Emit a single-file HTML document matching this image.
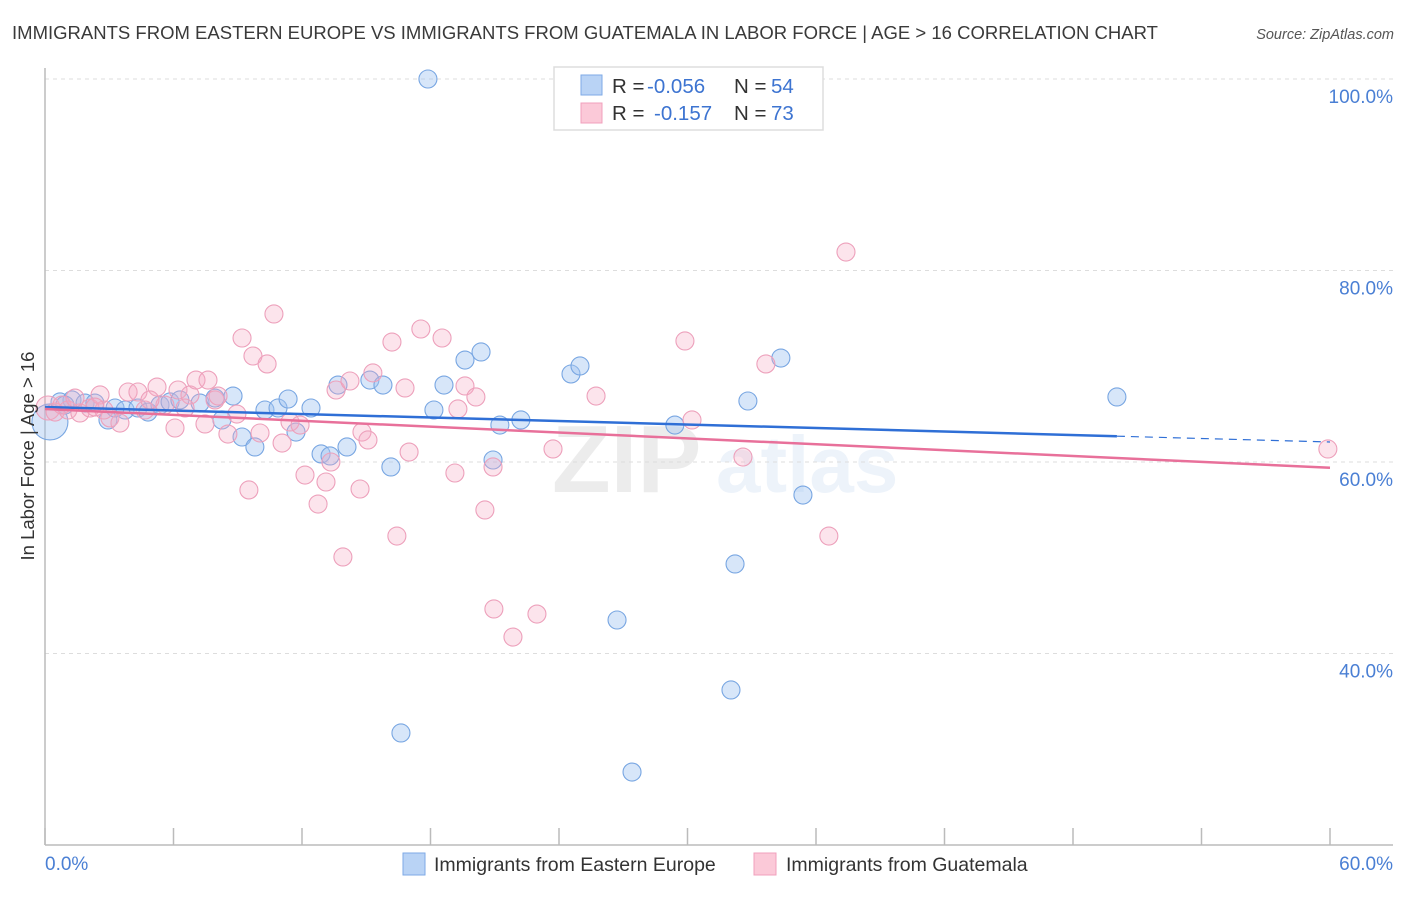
<!DOCTYPE html>
<html><head><meta charset="utf-8"><style>
body{margin:0;background:#fff;font-family:"Liberation Sans",sans-serif;}
svg text{font-family:"Liberation Sans",sans-serif;}
</style></head><body>
<svg id="chart" width="1406" height="892" xmlns="http://www.w3.org/2000/svg">
<text x="12" y="39" font-size="18.5" fill="#3a3a3a" textLength="1146" lengthAdjust="spacingAndGlyphs">IMMIGRANTS FROM EASTERN EUROPE VS IMMIGRANTS FROM GUATEMALA IN LABOR FORCE | AGE &gt; 16 CORRELATION CHART</text>
<text x="1394" y="39" font-size="14.5" fill="#555" font-style="italic" text-anchor="end">Source: ZipAtlas.com</text>
<g opacity="0.13">
<text x="552" y="492" font-size="96" font-family="Liberation Serif, serif" font-weight="bold" fill="#777">ZIP</text>
<text x="716" y="492" font-size="80" fill="#7aa6e0" font-weight="bold">atlas</text>
</g>
<g id="grid"></g>
<g id="axes"></g>
<g id="points"></g>
<g id="lines"></g>
<text transform="translate(34,456) rotate(-90)" font-size="18.5" fill="#333" text-anchor="middle">In Labor Force | Age &gt; 16</text>
<g>
<rect x="554" y="67" width="269" height="63" fill="#fff" stroke="#ddd" stroke-width="1.5"/>
<rect x="581" y="75" width="21" height="20" fill="#b9d3f5" stroke="#7ea9e6"/>
<rect x="581" y="103" width="21" height="20" fill="#fbc9d8" stroke="#f0a0bc"/>
<text x="612" y="93" font-size="20.5" fill="#333">R =</text><text x="647" y="93" font-size="20.5" fill="#3d74d1">-0.056</text>
<text x="734" y="93" font-size="20.5" fill="#333">N =</text><text x="771" y="93" font-size="20.5" fill="#3d74d1">54</text>
<text x="612" y="120" font-size="20.5" fill="#333">R =</text><text x="654" y="120" font-size="20.5" fill="#3d74d1">-0.157</text>
<text x="734" y="120" font-size="20.5" fill="#333">N =</text><text x="771" y="120" font-size="20.5" fill="#3d74d1">73</text>
</g>
<g>
<rect x="403" y="853" width="22" height="22" fill="#b9d3f5" stroke="#7ea9e6"/>
<text x="434" y="871" font-size="19.5" fill="#333">Immigrants from Eastern Europe</text>
<rect x="754" y="853" width="22" height="22" fill="#fbc9d8" stroke="#f0a0bc"/>
<text x="786" y="871" font-size="19.5" fill="#333">Immigrants from Guatemala</text>
</g>
</svg>
<script>
const yTicks=[40,60,80,100];
const yTickLabels=["40.0%","60.0%","80.0%","100.0%"];
const xTickLabels=["0.0%","60.0%"];
const blueX=[17.88,26.29,34.83,0.23,0.70,1.26,1.87,2.33,2.94,3.27,3.74,4.34,4.81,5.37,5.84,6.30,7.24,7.94,8.26,8.78,9.20,9.80,10.27,10.88,11.35,11.72,12.42,12.89,13.31,13.68,14.10,15.17,15.78,16.15,18.16,18.63,19.61,20.36,20.92,21.24,22.22,24.56,24.98,26.71,29.41,32.03,32.22,32.82,34.36,35.39,50.05,16.62,27.41,0.93];
const blueY=[100.0,100.3,95.72,64.18,66.27,66.48,66.16,66.16,64.39,65.64,65.43,65.64,65.22,65.95,66.27,66.48,66.16,66.68,64.39,66.89,62.61,61.57,65.43,65.64,66.58,63.13,65.64,60.84,60.63,68.04,61.57,68.56,68.04,59.48,65.43,68.04,70.65,71.49,60.21,63.86,64.39,69.19,70.03,43.50,63.86,36.19,49.35,66.37,70.86,56.55,66.79,31.70,27.62,65.95];
const pinkX=[0.14,0.47,0.79,1.07,1.63,2.10,2.57,3.03,3.50,3.88,4.34,4.67,5.23,5.60,6.07,6.21,6.77,7.05,7.47,7.61,7.94,8.54,8.96,9.20,9.52,9.71,10.04,10.37,10.69,11.07,11.44,12.14,12.75,13.12,13.35,13.59,13.91,14.24,14.71,14.80,15.08,15.31,16.20,16.43,16.81,17.00,17.55,18.54,19.14,19.28,19.61,20.12,20.54,20.92,20.96,21.85,22.97,23.72,25.73,29.88,30.21,32.59,33.66,36.60,37.40,59.90,1.40,2.75,4.90,6.54,8.08,11.91,2.33];
const pinkY=[65.64,65.22,65.95,65.43,65.12,65.64,67.00,64.60,64.07,67.31,67.31,65.43,67.83,65.95,63.55,67.52,67.00,68.56,63.97,68.56,66.48,62.92,65.01,72.95,57.08,71.07,63.03,70.24,75.46,61.98,64.18,58.64,55.61,57.91,60.00,67.52,50.08,68.46,57.18,63.13,62.30,69.30,72.53,52.27,67.73,61.04,73.89,72.95,58.85,65.54,67.94,66.79,54.99,59.48,44.65,41.72,44.12,61.36,66.89,72.64,64.39,60.52,70.24,52.27,81.93,61.36,66.68,65.43,66.48,65.64,66.89,63.86,65.74];
const blueTrend=[65.74,62.09];
const pinkTrend=[65.53,59.40];
const blueSolidEnd=50.05;

const X0=45,X1=1330;
function xs(v){return X0+(v/60)*(X1-X0);}
function ys(v){return 462-(v-60)*9.575;}
const NS="http://www.w3.org/2000/svg";
function mk(tag,attrs,parent){const e=document.createElementNS(NS,tag);for(const k in attrs)e.setAttribute(k,attrs[k]);parent.appendChild(e);return e;}
const grid=document.getElementById('grid'),axes=document.getElementById('axes'),pts=document.getElementById('points'),lines=document.getElementById('lines');
yTicks.forEach((t,i)=>{
  const l=mk('line',{x1:45,x2:1393,y1:ys(t),y2:ys(t),stroke:'#ddd','stroke-dasharray':'4,4'},grid);
  
  
  const tx=mk('text',{x:1393,y:ys(t)+24,'font-size':19,fill:'#4a7fd4','text-anchor':'end'},axes);
  tx.textContent=yTickLabels[i];
  
  
});
const ax=mk('line',{x1:45,x2:45,y1:68,y2:845,stroke:'#bbb','stroke-width':1.5},axes);


const bx=mk('line',{x1:45,x2:1393,y1:845,y2:845,stroke:'#bbb','stroke-width':1.5},axes);


for(let i=0;i<=10;i++){
  const tk=mk('line',{x1:xs(i*6),x2:xs(i*6),y1:828,y2:845,stroke:'#bbb','stroke-width':1.5},axes);
  
  
}
const xl0=mk('text',{x:45,y:870,'font-size':19,fill:'#4a7fd4'},axes);xl0.textContent=xTickLabels[0];


const xl1=mk('text',{x:1393,y:870,'font-size':19,fill:'#4a7fd4','text-anchor':'end'},axes);xl1.textContent=xTickLabels[1];



blueX.forEach((v,i)=>{
  const c=mk('circle',{cx:xs(v),cy:ys(blueY[i]),r:i==3?18:9,fill:'rgba(160,196,240,0.42)',stroke:'#78a6e2','stroke-width':1.1},pts);
  
  
});
pinkX.forEach((v,i)=>{
  const c=mk('circle',{cx:xs(v),cy:ys(pinkY[i]),r:i==0?12:9,fill:'rgba(245,170,195,0.32)',stroke:'#eda0bb','stroke-width':1.1},pts);
  
  
});
function ty(tr,x){return tr[0]+(tr[1]-tr[0])*x/60;}
const bl=mk('line',{x1:xs(0),y1:ys(blueTrend[0]),x2:xs(blueSolidEnd),y2:ys(ty(blueTrend,blueSolidEnd)),stroke:'#2f6fd6','stroke-width':2.5},lines);


const bd=mk('line',{x1:xs(blueSolidEnd),y1:ys(ty(blueTrend,blueSolidEnd)),x2:xs(60),y2:ys(blueTrend[1]),stroke:'#2f6fd6','stroke-width':1.2,'stroke-dasharray':'8,6'},lines);


const pl=mk('line',{x1:xs(0),y1:ys(pinkTrend[0]),x2:xs(60),y2:ys(pinkTrend[1]),stroke:'#e8709a','stroke-width':2.5},lines);


</script>
</body></html>
